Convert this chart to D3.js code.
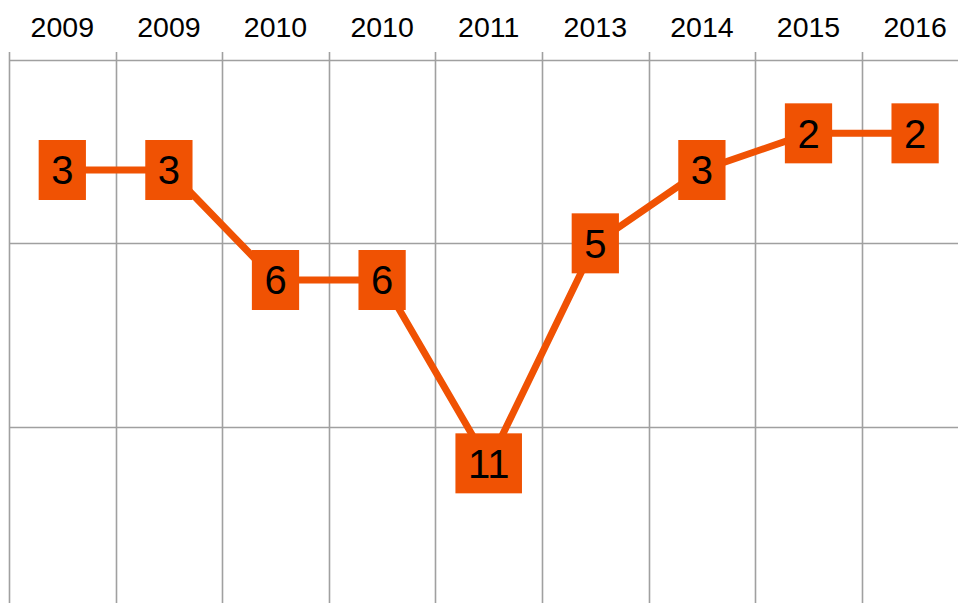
<!DOCTYPE html>
<html>
<head>
<meta charset="utf-8">
<script src="https://cdn.jsdelivr.net/npm/d3@7"></script>
<style>
  body { margin: 0; background: #fff; }
  svg { display: block; font-family: 'Liberation Sans', Arial, sans-serif; }
</style>
</head>
<body>
<svg id="chart"></svg>
<script>
// rank per edition, lower is better
const years = ['2009', '2009', '2010', '2010', '2011', '2013', '2014', '2015', '2016']
const ranks = [3, 3, 6, 6, 11, 5, 3, 2, 2]
const rankTicks = [0, 5, 10]

const width = 958
const height = 603
const margin = { top: 60, left: 9 }
const colWidth = 106.6
const orange = '#f05203'
const grid = '#a0a0a0'

const svg = d3.select('#chart')
  .attr('width', width)
  .attr('height', height)

const idx = d3.range(years.length)

const xScale = d3.scaleBand()
  .domain(idx)
  .range([margin.left, margin.left + colWidth * years.length])

const yScale = d3.scaleLinear()
  .domain([0, 15])
  .range([margin.top, margin.top + 550])

// horizontal grid lines
svg.append('g')
  .selectAll('line')
  .data(rankTicks)
  .join('line')
  .attr('x1', margin.left)
  .attr('x2', width)
  .attr('y1', d => Math.round(yScale(d)) + 0.5)
  .attr('y2', d => Math.round(yScale(d)) + 0.5)
  .attr('stroke', grid)
  .attr('stroke-width', 1.6)

// vertical grid lines on the column edges
svg.append('g')
  .selectAll('line')
  .data(idx.concat([years.length]))
  .join('line')
  .attr('x1', d => Math.round(margin.left + d * xScale.step()) + 0.5)
  .attr('x2', d => Math.round(margin.left + d * xScale.step()) + 0.5)
  .attr('y1', margin.top - 8)
  .attr('y2', height)
  .attr('stroke', grid)
  .attr('stroke-width', 1.6)

// year labels along the top
const xAxis = svg.append('g')
  .attr('transform', `translate(0, ${margin.top - 23})`)
  .call(d3.axisTop(xScale).tickSize(0).tickFormat(i => years[i]))
xAxis.select('.domain').remove()
xAxis.selectAll('text')
  .attr('y', 0)
  .attr('dy', 0)
  .style('font-size', '28.5px')
  .style('font-family', "'Liberation Sans', Arial, sans-serif")
  .attr('fill', '#000')

const cx = i => xScale(i) + xScale.bandwidth() / 2

const line = d3.line()
  .x((d, i) => cx(i))
  .y(d => yScale(d))

svg.append('path')
  .datum(ranks)
  .attr('d', line)
  .attr('fill', 'none')
  .attr('stroke', orange)
  .attr('stroke-width', 7)
  .attr('stroke-linejoin', 'round')

const marks = svg.append('g')
  .selectAll('g')
  .data(ranks)
  .join('g')
  .attr('transform', (d, i) => `translate(${cx(i)}, ${yScale(d)})`)

marks.append('text')
  .attr('text-anchor', 'middle')
  .attr('dy', '0.36em')
  .style('font-size', '40px')
  .attr('fill', '#000')
  .text(d => d)

marks.each(function () {
  const g = d3.select(this)
  const w = g.select('text').node().getComputedTextLength() + 25
  g.insert('rect', 'text')
    .attr('x', -w / 2)
    .attr('y', -30)
    .attr('width', w)
    .attr('height', 60)
    .attr('fill', orange)
})
</script>
</body>
</html>
